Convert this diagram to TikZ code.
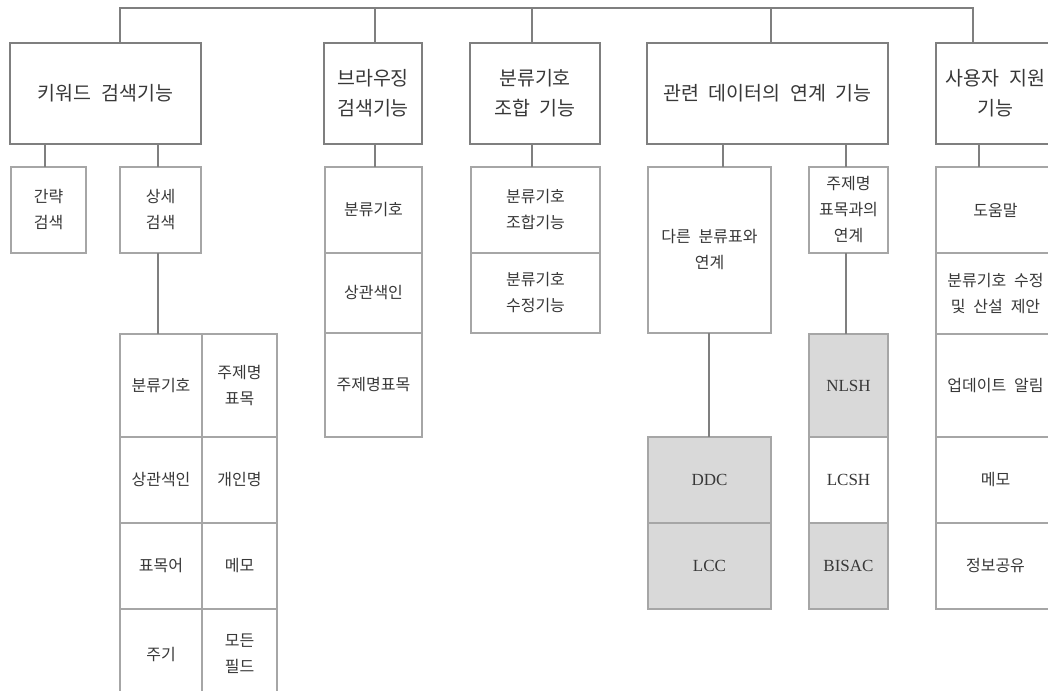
\documentclass[tikz,border=0pt]{standalone}
\usepackage{fontspec}
\setmainfont[WordSpace=2.2]{Noto Sans CJK KR}
\newfontfamily\latinserif{Liberation Serif}
\definecolor{topline}{HTML}{7F7F7F}
\definecolor{subline}{HTML}{A6A6A6}
\definecolor{shade}{HTML}{D9D9D9}
\definecolor{txt}{HTML}{383838}
\begin{document}
\begin{tikzpicture}[x=1pt,y=-1pt,
  topbox/.style={draw=topline, line width=2pt, fill=white, text=txt, align=center, inner sep=0pt, outer sep=0pt,
    font=\fontsize{19.5pt}{30pt}\selectfont},
  subbox/.style={draw=subline, line width=1.4pt, fill=white, text=txt, align=center, inner sep=0pt, outer sep=0pt,
    font=\fontsize{16pt}{26pt}\selectfont},
  graybox/.style={subbox, fill=shade},
  lat/.style={font=\latinserif\fontsize{17pt}{26pt}\selectfont},
  conn/.style={draw=topline, line width=2pt},
  sz/.style 2 args={minimum width=#1pt, minimum height=#2pt}
]
\useasboundingbox (0,0) rectangle (1048,690);

% bus coordinates
\coordinate (b1) at (120,8);
\coordinate (b2) at (375,8);
\coordinate (b3) at (532,8);
\coordinate (b4) at (771,8);
\coordinate (b5) at (973,8);

% top-level boxes
\node[topbox, sz={191}{101}] (k1) at (105.5,93.5) {키워드 검색기능};
\node[topbox, sz={98}{101}] (k2) at (373,93.5) {브라우징\\검색기능};
\node[topbox, sz={130}{101}] (k3) at (535,93.5) {분류기호\\조합 기능};
\node[topbox, sz={241}{101}] (k4) at (767.5,93.5) {관련 데이터의 연계 기능};
\node[topbox, sz={119}{101}] (k5) at (995.5,93.5) {사용자 지원\\기능};

% keyword search children
\node[subbox, sz={75}{86}] (s1) at (48.5,210) {간략\\검색};
\node[subbox, sz={81}{86}] (s2) at (160.5,210) {상세\\검색};
\coordinate (c1) at (45,0);
\coordinate (c2) at (158,0);

\node[subbox, sz={82}{103}] (g11) at (161,385.5) {분류기호};
\node[subbox, sz={75}{103}] (g12) at (239.5,385.5) {주제명\\표목};
\node[subbox, sz={82}{86}] (g21) at (161,480) {상관색인};
\node[subbox, sz={75}{86}] (g22) at (239.5,480) {개인명};
\node[subbox, sz={82}{86}] (g31) at (161,566) {표목어};
\node[subbox, sz={75}{86}] (g32) at (239.5,566) {메모};
\node[subbox, sz={82}{90}] (g41) at (161,654) {주기};
\node[subbox, sz={75}{90}] (g42) at (239.5,654) {모든\\필드};

% browse children
\node[subbox, sz={97}{86}] (r1) at (373.5,210) {분류기호};
\node[subbox, sz={97}{80}] (r2) at (373.5,293) {상관색인};
\node[subbox, sz={97}{104}] (r3) at (373.5,385) {주제명표목};
\coordinate (c3) at (375,0);

% combine children
\node[subbox, sz={129}{86}] (m1) at (535.5,210) {분류기호\\조합기능};
\node[subbox, sz={129}{80}] (m2) at (535.5,293) {분류기호\\수정기능};
\coordinate (c4) at (532,0);

% linking children
\node[subbox, sz={123}{166}] (o1) at (709.5,250) {다른 분류표와\\연계};
\node[graybox, lat, sz={123}{86}] (ddc) at (709.5,480) {DDC};
\node[graybox, lat, sz={123}{86}] (lcc) at (709.5,566) {LCC};
\coordinate (c5) at (723,0);
\coordinate (c6) at (709,0);

\node[subbox, sz={79}{86}] (t1) at (848.5,210) {주제명\\표목과의\\연계};
\node[graybox, lat, sz={79}{103}] (nlsh) at (848.5,385.5) {NLSH};
\node[subbox, lat, sz={79}{86}] (lcsh) at (848.5,480) {LCSH};
\node[graybox, lat, sz={79}{86}] (bisac) at (848.5,566) {BISAC};
\coordinate (c7) at (846,0);

% user support children
\node[subbox, sz={119}{86}] (u1) at (995.5,210) {도움말};
\node[subbox, sz={119}{81}] (u2) at (995.5,293.5) {분류기호 수정\\및 산설 제안};
\node[subbox, sz={119}{103}] (u3) at (995.5,385.5) {업데이트 알림};
\node[subbox, sz={119}{86}] (u4) at (995.5,480) {메모};
\node[subbox, sz={119}{86}] (u5) at (995.5,566) {정보공유};
\coordinate (c8) at (979,0);

% connectors
\draw[conn] (b1 |- k1.north) -- (b1) -- (b5) -- (b5 |- k5.north);
\draw[conn] (b2) -- (b2 |- k2.north);
\draw[conn] (b3) -- (b3 |- k3.north);
\draw[conn] (b4) -- (b4 |- k4.north);

\draw[conn] (c1 |- k1.south) -- (c1 |- s1.north);
\draw[conn] (c2 |- k1.south) -- (c2 |- s2.north);
\draw[conn] (c2 |- s2.south) -- (c2 |- g11.north);
\draw[conn] (c3 |- k2.south) -- (c3 |- r1.north);
\draw[conn] (c4 |- k3.south) -- (c4 |- m1.north);
\draw[conn] (c5 |- k4.south) -- (c5 |- o1.north);
\draw[conn] (c6 |- o1.south) -- (c6 |- ddc.north);
\draw[conn] (c7 |- k4.south) -- (c7 |- t1.north);
\draw[conn] (c7 |- t1.south) -- (c7 |- nlsh.north);
\draw[conn] (c8 |- k5.south) -- (c8 |- u1.north);
\end{tikzpicture}
\end{document}
